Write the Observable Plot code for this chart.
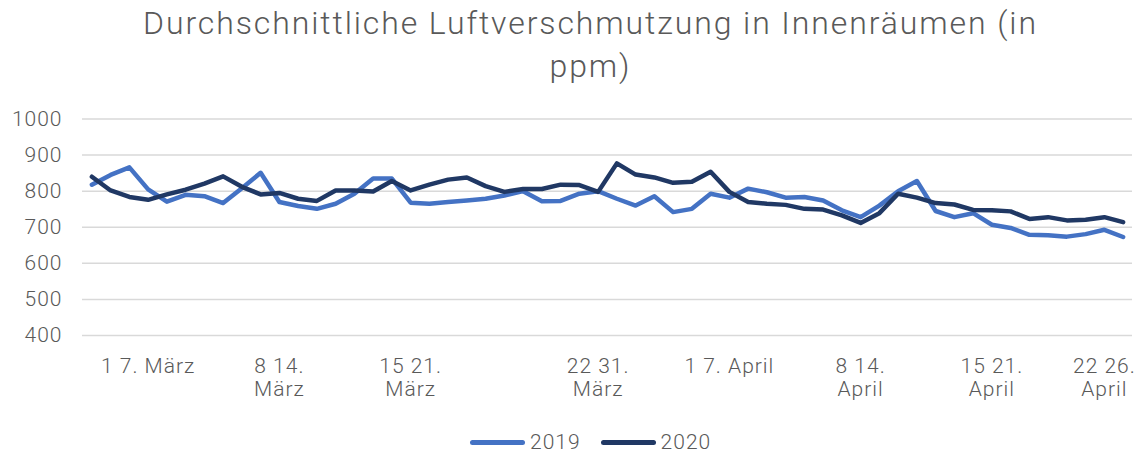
<!DOCTYPE html>
<html>
<head>
<meta charset="utf-8">
<script src="https://cdn.jsdelivr.net/npm/d3@7"></script>
<script src="https://cdn.jsdelivr.net/npm/@observablehq/plot@0.6"></script>
<style>
  body { margin: 0; background: #fff; font-family: Roboto, "Open Sans", sans-serif; }
  #wrap { position: relative; width: 1143px; height: 457px; overflow: hidden; }
  #title { position: relative; left: 19px; width: 1143px; text-align: center; font-size: 32px; font-weight: 300; letter-spacing: 1.9px; line-height: 43px; color: #595959; padding-top: 2px; height: 88px; }
  #legend { position: absolute; left: 470px; top: 425px; height: 34px; display: flex; align-items: center; font-size: 21px; font-weight: 300; letter-spacing: 1px; color: #595959; }
  .item { display: flex; align-items: center; margin-right: 20px; }
  .sw { width: 55px; height: 5px; border-radius: 3px; margin-right: 5px; }
</style>
</head>
<body>
<div id="wrap">
  <div id="title">Durchschnittliche Luftverschmutzung in Innenräumen (in<br>ppm)</div>
  <div id="chart"></div>
  <div id="legend"></div>
</div>
<script>
const series = ["2019", "2020"];
const colors = ["#4472C4", "#203864"];
const values2019 = [818,845,866,805,771,790,786,767,808,851,770,759,751,765,793,835,835,768,765,770,774,779,788,800,772,773,793,800,779,760,786,742,751,793,782,807,797,782,784,774,747,728,760,800,828,745,728,739,707,698,679,678,674,681,693,673];
const values2020 = [840,802,784,776,791,804,821,841,812,791,795,779,773,802,802,799,828,802,818,832,838,814,798,806,806,818,817,798,877,846,838,823,826,854,798,770,765,762,751,749,733,712,739,793,782,767,763,748,747,744,723,728,719,721,728,714];
const yTicks = [400, 500, 600, 700, 800, 900, 1000];
const xTickPositions = [3, 10, 17, 27, 34, 41, 48, 54];
const xTickLabels = ["1 7. März", "8 14.\nMärz", "15 21.\nMärz", "22 31.\nMärz", "1 7. April", "8 14.\nApril", "15 21.\nApril", "22 26.\nApril"];

const data = [
  ...values2019.map((v, i) => ({i, v, s: "2019"})),
  ...values2020.map((v, i) => ({i, v, s: "2020"}))
];
const n = values2019.length;
const xLabels = xTickPositions.map((p, k) => ({p, t: xTickLabels[k]}));

const chart = Plot.plot({
  width: 1143,
  height: 335,
  marginLeft: 82,
  marginRight: 11,
  marginTop: 28.5,
  marginBottom: 90,
  style: {fontFamily: "Roboto, 'Open Sans', sans-serif", fontWeight: 300, color: "#595959", background: "#fff", letterSpacing: "1px"},
  x: {domain: [-0.5, n - 0.5], axis: null},
  y: {domain: [400, 1000]},
  color: {domain: series, range: colors},
  marks: [
    Plot.ruleY(yTicks, {stroke: "#d9d9d9", strokeWidth: 1.5}),
    Plot.axisY({ticks: yTicks, tickFormat: d => String(d), tickSize: 0, tickPadding: 20, fontSize: 21, label: null}),
    Plot.line(data, {x: "i", y: "v", z: "s", stroke: "s", strokeWidth: 4.5, strokeLinejoin: "round", strokeLinecap: "round"}),
    Plot.text(xLabels, {x: "p", text: "t", frameAnchor: "bottom", lineAnchor: "top", dy: 20, fontSize: 21, lineHeight: 1.14, fill: "#595959"})
  ]
});
document.getElementById("chart").appendChild(chart);

const legend = document.getElementById("legend");
series.forEach((s, k) => {
  const it = document.createElement("div");
  it.className = "item";
  it.innerHTML = `<div class="sw" style="background:${colors[k]}"></div><span>${s}</span>`;
  legend.appendChild(it);
});
</script>
</body>
</html>
